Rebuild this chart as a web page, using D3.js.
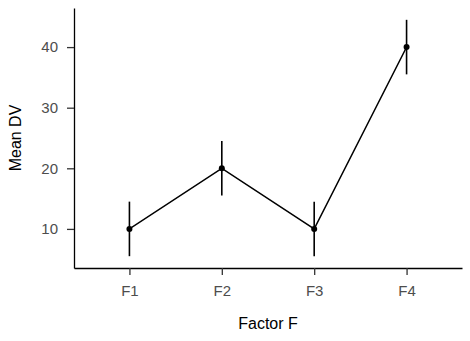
<!DOCTYPE html>
<html>
<head>
<meta charset="utf-8">
<script src="https://cdn.jsdelivr.net/npm/d3@7"></script>
<style>
  body { margin: 0; background: #fff; }
  svg { display: block; font-family: "Liberation Sans", Arial, sans-serif; }
  .tick text { font-size: 15px; fill: #4d4d4d; }
</style>
</head>
<body>
<script>
// data
var factors = ['F1', 'F2', 'F3', 'F4'];
var means = [10, 20, 10, 40];
var errLow = [5.5, 15.5, 5.5, 35.5];
var errHigh = [14.5, 24.5, 14.5, 44.5];
var yTicks = [10, 20, 30, 40];

var width = 470,
    height = 341;

var margin = { top: 8, right: 8, bottom: 73, left: 74 };

var svg = d3.select('body')
  .append('svg')
  .attr('width', width)
  .attr('height', height);

// discrete axis with ggplot-like 0.6 expansion
var x = d3.scaleLinear()
  .domain([1 - 0.6, factors.length + 0.6])
  .range([margin.left, width - margin.right]);

var lo = d3.min(errLow), hi = d3.max(errHigh), pad = (hi - lo) * 0.05;
var y = d3.scaleLinear()
  .domain([lo - pad, hi + pad])
  .range([height - margin.bottom, margin.top]);

var xAxis = svg.append('g')
  .attr('transform', 'translate(0,' + (height - margin.bottom) + ')')
  .call(d3.axisBottom(x)
    .tickValues(d3.range(1, factors.length + 1))
    .tickFormat(function(d) { return factors[d - 1]; })
    .tickSize(7)
    .tickPadding(10)
    .tickSizeOuter(0));

var yAxis = svg.append('g')
  .attr('transform', 'translate(' + margin.left + ',0)')
  .call(d3.axisLeft(y)
    .tickValues(yTicks)
    .tickSize(7)
    .tickPadding(9)
    .tickSizeOuter(0));

[xAxis, yAxis].forEach(function(g) {
  g.attr('font-family', null);
  g.select('.domain').attr('stroke', '#000').attr('stroke-width', 1.3);
  g.selectAll('.tick line').attr('stroke', '#333').attr('stroke-width', 1.3);
});

// connecting line
var line = d3.line()
  .x(function(d, i) { return x(i + 1); })
  .y(function(d) { return y(d); });

svg.append('path')
  .datum(means)
  .attr('d', line)
  .attr('fill', 'none')
  .attr('stroke', '#000')
  .attr('stroke-width', 1.4);

// error bars
svg.selectAll('.err')
  .data(means)
  .enter().append('line')
  .attr('class', 'err')
  .attr('x1', function(d, i) { return x(i + 1); })
  .attr('x2', function(d, i) { return x(i + 1); })
  .attr('y1', function(d, i) { return y(errLow[i]); })
  .attr('y2', function(d, i) { return y(errHigh[i]); })
  .attr('stroke', '#000')
  .attr('stroke-width', 1.6);

// points
svg.selectAll('.pt')
  .data(means)
  .enter().append('circle')
  .attr('class', 'pt')
  .attr('cx', function(d, i) { return x(i + 1); })
  .attr('cy', function(d) { return y(d); })
  .attr('r', 3)
  .attr('fill', '#000');

// axis titles
svg.append('text')
  .attr('x', (margin.left + width - margin.right) / 2)
  .attr('y', 329)
  .attr('text-anchor', 'middle')
  .style('font-size', '16px')
  .text('Factor F');

svg.append('text')
  .attr('transform', 'translate(21,' + (margin.top + height - margin.bottom) / 2 + ') rotate(-90)')
  .attr('text-anchor', 'middle')
  .style('font-size', '16px')
  .text('Mean DV');
</script>
</body>
</html>
